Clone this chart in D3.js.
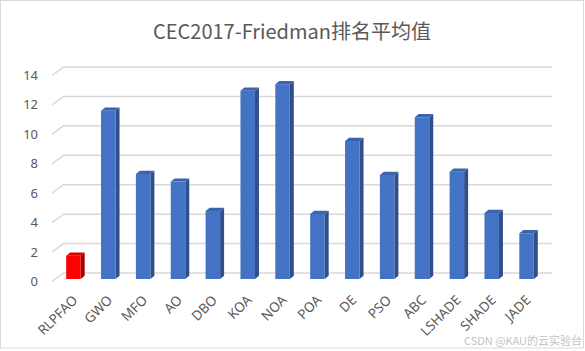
<!DOCTYPE html>
<html>
<head>
    <meta charset="utf-8">
    <title>CEC2017-Friedman排名平均值</title>
    <script src="https://cdn.jsdelivr.net/npm/d3@7"></script>
    <style>
        body { margin: 0; background: #fff; }
        .tick-label { font: 13px "Noto Sans", sans-serif; fill: #595959; }
        .cat-label { font: 13.5px "Noto Sans", sans-serif; fill: #595959; }
        .title { font: 20px "Noto Sans CJK SC", sans-serif; fill: #595959; }
        .mark { font: 11px "Noto Sans CJK SC", sans-serif; fill: #c4c4c4; }
    </style>
</head>
<body>
    <div id="chart"></div>
    <script>
        // data
        const categories = ["RLPFAO", "GWO", "MFO", "AO", "DBO", "KOA", "NOA",
                            "POA", "DE", "PSO", "ABC", "LSHADE", "SHADE", "JADE"];
        const rankValues = [1.58, 11.44, 7.14, 6.62, 4.62, 12.8, 13.24,
                            4.42, 9.38, 7.07, 10.99, 7.29, 4.49, 3.11];
        const yTicks = [0, 2, 4, 6, 8, 10, 12, 14];

        const width = 585, height = 351;
        // 3d look: back wall vs front edge offsets
        const depthX = 11.5, depthY = 8.5;
        const barDx = 4, barDy = 3.2, barShift = 6;

        const svg = d3.select("#chart").append("svg")
            .attr("width", width)
            .attr("height", height);

        svg.append("rect")
            .attr("x", 0.5).attr("y", 0.5)
            .attr("width", 583).attr("height", 347.5)
            .attr("fill", "#fff")
            .attr("stroke", "#d9d9d9");

        // y on the back wall
        const y = d3.scaleLinear().domain([0, 14]).range([273, 67]);
        const x = d3.scaleBand().domain(categories)
            .range([56, 544])
            .paddingInner(0.584)
            .paddingOuter(0.292);

        const gridLeft = 63.5, gridRight = 552;

        // gridlines with the slanted floor edge
        const grid = svg.append("g");
        yTicks.forEach(t => {
            grid.append("path")
                .attr("d", `M${gridLeft - depthX},${y(t) + depthY}L${gridLeft},${y(t)}L${gridRight},${y(t)}`)
                .attr("fill", "none")
                .attr("stroke", "#d9d9d9")
                .attr("stroke-width", 1.5);
            grid.append("text")
                .attr("class", "tick-label")
                .attr("x", 38)
                .attr("y", y(t) + depthY + 4.5)
                .attr("text-anchor", "end")
                .text(t);
        });

        // bars
        const bars = svg.append("g").selectAll("g")
            .data(categories.map((c, i) => ({ c, v: rankValues[i], i })))
            .join("g");

        const colors = d => d.i === 0
            ? { front: "#ff0000", side: "#a50000", top: "#d40000" }
            : { front: "#4472c4", side: "#2f4f8a", top: "#3b64b0" };

        bars.each(function (d) {
            const g = d3.select(this);
            const x0 = x(d.c), w = x.bandwidth();
            const yb = y(0) + barShift, yt = y(d.v) + barShift;
            const col = colors(d);
            // side face
            g.append("path")
                .attr("d", `M${x0 + w},${yt}L${x0 + w + barDx},${yt - barDy}L${x0 + w + barDx},${yb - barDy}L${x0 + w},${yb}Z`)
                .attr("fill", col.side);
            // top face
            g.append("path")
                .attr("d", `M${x0},${yt}L${x0 + barDx},${yt - barDy}L${x0 + w + barDx},${yt - barDy}L${x0 + w},${yt}Z`)
                .attr("fill", col.top);
            // front face
            g.append("rect")
                .attr("x", x0).attr("y", yt)
                .attr("width", w).attr("height", yb - yt)
                .attr("fill", col.front);
        });

        // category labels, rotated
        svg.append("g").selectAll("text")
            .data(categories)
            .join("text")
            .attr("class", "cat-label")
            .attr("text-anchor", "end")
            .attr("transform", d => `translate(${x(d) + x.bandwidth() / 2 + 5},${301}) rotate(-45)`)
            .text(d => d);

        svg.append("text")
            .attr("class", "title")
            .attr("x", 292)
            .attr("y", 39)
            .attr("text-anchor", "middle")
            .text("CEC2017-Friedman排名平均值");

        svg.append("text")
            .attr("class", "mark")
            .attr("x", 582)
            .attr("y", 345)
            .attr("text-anchor", "end")
            .text("CSDN @KAU的云实验台");
    </script>
</body>
</html>
